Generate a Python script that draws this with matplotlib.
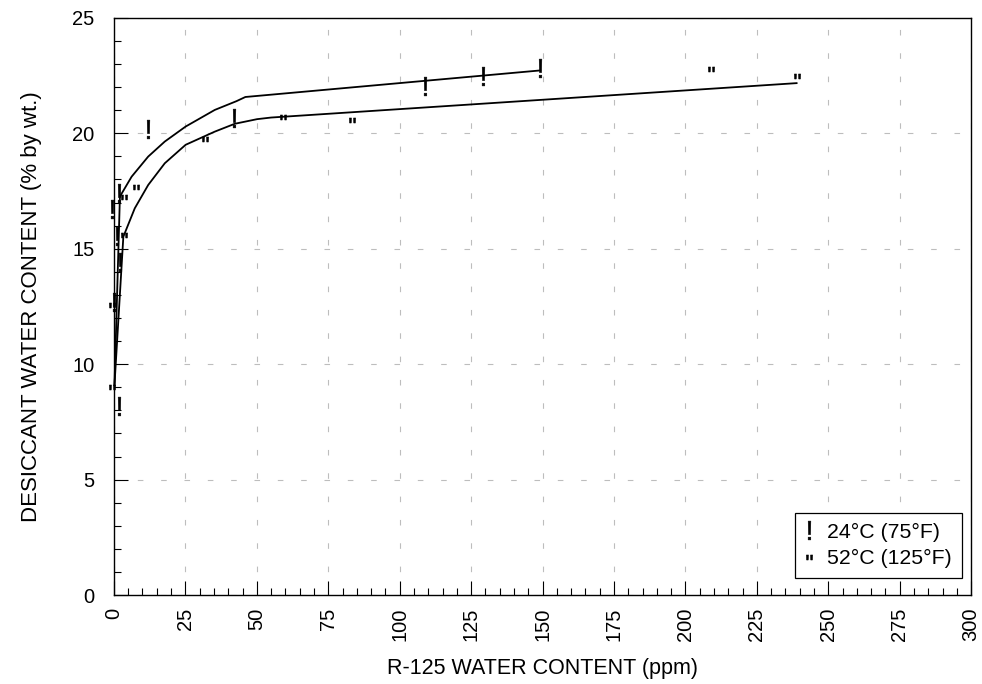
import matplotlib
matplotlib.use("Agg")
import matplotlib.pyplot as plt
from matplotlib.ticker import MultipleLocator
from matplotlib.lines import Line2D
from matplotlib.textpath import TextPath
from matplotlib.font_manager import FontProperties
from matplotlib.path import Path

plt.rcParams['font.family'] = ['Liberation Sans', 'DejaVu Sans']

# measured points, 24 C (75 F)
t24_x = [-0.8, 0.0, 1.2, 1.75, 1.75, 2.1, 12.0, 42.0, 109.0, 129.0, 149.0]
t24_y = [16.7, 12.7, 15.55, 17.4, 8.2, 14.43, 20.2, 20.67, 22.05, 22.49, 22.81]

# measured points, 52 C (125 F)
t52_x = [-0.8, -0.8, 3.5, 3.5, 7.9, 31.8, 59.0, 83.2, 209.0, 239.0]
t52_y = [9.0, 12.55, 15.6, 17.25, 17.68, 19.77, 20.72, 20.58, 22.78, 22.49]

# fitted curves
c24_x = [0.2, 2.1, 6.2, 12.0, 17.8, 25.1, 35.3, 42.9, 46.0, 149.2]
c24_y = [9.1, 17.26, 18.12, 18.99, 19.64, 20.29, 21.01, 21.39, 21.57, 22.72]
c52_x = [0.2, 3.3, 7.3, 12.0, 17.8, 25.1, 35.3, 42.3, 50.1, 55.0, 238.9]
c52_y = [9.1, 15.52, 16.75, 17.76, 18.7, 19.5, 20.07, 20.41, 20.61, 20.68, 22.17]

labels = ['24°C (75°F)', '52°C (125°F)']


def glyph_marker(ch):
    # text glyph as a marker path, centred on its own bounding box
    tp = TextPath((0, 0), ch, prop=FontProperties(family='Liberation Sans'))
    v = tp.vertices.copy()
    codes = tp.codes
    real = codes != Path.CLOSEPOLY
    cx = (v[real, 0].min() + v[real, 0].max()) / 2
    cy = (v[real, 1].min() + v[real, 1].max()) / 2
    v[:, 0] -= cx
    v[:, 1] -= cy
    v[~real] = 0.0
    return Path(v, codes)


m_excl = glyph_marker('!')
m_quot = glyph_marker('"')

fig = plt.figure(figsize=(9.82, 6.84), dpi=100)
ax = fig.add_axes([0.116, 0.130, 0.873, 0.844])

ax.plot(c24_x, c24_y, color='black', lw=1.3, clip_on=False, zorder=3)
ax.plot(c52_x, c52_y, color='black', lw=1.3, clip_on=False, zorder=3)

ax.plot(t24_x, t24_y, ls='none', marker=m_excl, ms=13.5, color='black',
        mew=0.4, clip_on=False, zorder=4)
ax.plot(t52_x, t52_y, ls='none', marker=m_quot, ms=4.5, color='black',
        mew=0.4, clip_on=False, zorder=4)

ax.set_xlim(0, 300)
ax.set_ylim(0, 25)
ax.xaxis.set_major_locator(MultipleLocator(25))
ax.xaxis.set_minor_locator(MultipleLocator(5))
ax.yaxis.set_major_locator(MultipleLocator(5))
ax.yaxis.set_minor_locator(MultipleLocator(1))

ax.tick_params(which='both', direction='in', color='black', width=0.8,
               labelsize=14.5)
ax.tick_params(which='major', length=10)
ax.tick_params(which='minor', length=5)
ax.tick_params(axis='x', which='major', pad=9, labelrotation=90)
ax.tick_params(axis='y', which='major', pad=14)

ax.grid(True, which='major', color='#bdbdbd', lw=0.8, ls=(0, (5, 16)))
ax.set_axisbelow(True)
for s in ax.spines.values():
    s.set_linewidth(1.0)
    s.set_color('black')

ax.set_xlabel('R-125 WATER CONTENT (ppm)', fontsize=15.5, labelpad=12)
ax.set_ylabel('DESICCANT WATER CONTENT (% by wt.)', fontsize=16, labelpad=22)

handles = [
    Line2D([], [], ls='none', marker=m_excl, ms=13.5, color='black', mew=0.4),
    Line2D([], [], ls='none', marker=m_quot, ms=4.5, color='black', mew=0.4),
]
leg = ax.legend(handles, labels, loc='lower right',
                bbox_to_anchor=(0.989, 0.03), fontsize=15.3, frameon=True,
                fancybox=False, framealpha=1, edgecolor='black',
                handlelength=0.5, handletextpad=0.6, borderpad=0.45,
                labelspacing=0.35, borderaxespad=0)
leg.get_frame().set_linewidth(0.9)

fig.savefig('out.png', dpi=100)
